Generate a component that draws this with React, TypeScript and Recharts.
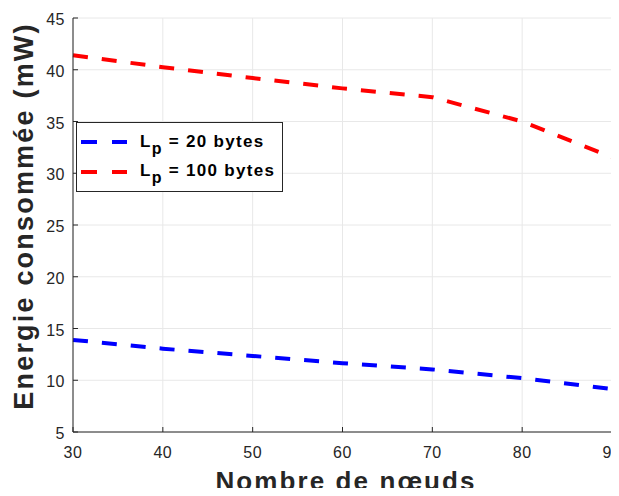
import { LineChart, Line, XAxis, YAxis, CartesianGrid } from "recharts"

const nodes = [30, 40, 50, 60, 70, 80, 90]
const lp20 = [13.9, 13.05, 12.35, 11.65, 11.05, 10.2, 9.15]
const lp100 = [41.4, 40.25, 39.2, 38.2, 37.35, 35.0, 31.55]
const xTicks = [30, 40, 50, 60, 70, 80, 90]
const yTicks = [5, 10, 15, 20, 25, 30, 35, 40, 45]

const data = nodes.map((n, i) => ({ n, lp20: lp20[i], lp100: lp100[i] }))

const FONT = "'Liberation Sans', Arial, sans-serif"
const AX = "#262626"

const series = [
  { key: "lp20", color: "#0000ff", value: "20" },
  { key: "lp100", color: "#ff0000", value: "100" },
]

function BottomTick(props: any) {
  const { x, y, payload } = props
  return (
    <g>
      <line x1={x} y1={y} x2={x} y2={y - 5} stroke={AX} strokeWidth={1} />
      <text x={x} y={y + 26} textAnchor="middle" fontSize={16} fill={AX} fontFamily={FONT} letterSpacing={0.5}>
        {payload.value}
      </text>
    </g>
  )
}

function LeftTick(props: any) {
  const { x, y, payload } = props
  return (
    <g>
      <line x1={x} y1={y} x2={x + 5} y2={y} stroke={AX} strokeWidth={1} />
      <text x={x - 8} y={y + 7} textAnchor="end" fontSize={16} fill={AX} fontFamily={FONT} letterSpacing={0.5}>
        {payload.value}
      </text>
    </g>
  )
}

function TopTick(props: any) {
  const { x, y } = props
  return <line x1={x} y1={y} x2={x} y2={y + 5} stroke={AX} strokeWidth={1} />
}

function RightTick(props: any) {
  const { x, y } = props
  return <line x1={x} y1={y} x2={x - 5} y2={y} stroke={AX} strokeWidth={1} />
}

// legend drawn as a small svg box over the plot (upper left)
function LegendBox() {
  return (
    <svg width={208} height={71} style={{ position: "absolute", left: 76, top: 122 }}>
      <rect x={0.5} y={0.5} width={206} height={69} fill="#fff" stroke={AX} strokeWidth={1} />
      {series.map((s, i) => (
        <g key={s.key}>
          <line
            x1={5}
            y1={20 + i * 30}
            x2={51}
            y2={20 + i * 30}
            stroke={s.color}
            strokeWidth={4}
            strokeDasharray="16 15"
          />
          <text
            x={64}
            y={25 + i * 29}
            fontFamily={FONT}
            fontWeight="bold"
            fontSize={17}
            letterSpacing={1.3}
            fill="#000"
          >
            L
            <tspan dy={7} fontSize={16}>
              p
            </tspan>
            <tspan dy={-7}> = {s.value} bytes</tspan>
          </text>
        </g>
      ))}
    </svg>
  )
}

export default function App() {
  return (
    <div style={{ position: "relative", width: 619, height: 496, margin: -8, background: "#fff", overflow: "hidden" }}>
      <LineChart
        width={619}
        height={496}
        data={data}
        margin={{ top: 18, right: 7, bottom: 34, left: 13 }}
        style={{ background: "#fff", overflow: "visible" }}
      >
        <CartesianGrid stroke="#e8e8e8" strokeWidth={1} />
        <XAxis
          dataKey="n"
          type="number"
          domain={[30, 90]}
          ticks={xTicks}
          height={30}
          tickSize={0}
          tickMargin={0}
          tickLine={false}
          axisLine={{ stroke: AX }}
          tick={<BottomTick />}
          interval={0}
        />
        <XAxis
          xAxisId="top"
          dataKey="n"
          type="number"
          orientation="top"
          domain={[30, 90]}
          ticks={xTicks}
          height={0}
          tickSize={0}
          tickMargin={0}
          tickLine={false}
          axisLine={{ stroke: AX }}
          tick={<TopTick />}
          interval={0}
        />
        <YAxis
          type="number"
          domain={[5, 45]}
          ticks={yTicks}
          width={60}
          tickSize={0}
          tickMargin={0}
          tickLine={false}
          axisLine={{ stroke: AX }}
          tick={<LeftTick />}
          interval={0}
        />
        <YAxis
          yAxisId="right"
          orientation="right"
          type="number"
          domain={[5, 45]}
          ticks={yTicks}
          width={0}
          tickSize={0}
          tickMargin={0}
          tickLine={false}
          axisLine={{ stroke: AX }}
          tick={<RightTick />}
          interval={0}
        />
        {series.map((s) => (
          <Line
            key={s.key}
            dataKey={s.key}
            type="linear"
            stroke={s.color}
            strokeWidth={4}
            strokeDasharray="15 14"
            dot={false}
            activeDot={false}
            isAnimationActive={false}
          />
        ))}
      </LineChart>
      <LegendBox />
      <div style={{ position: "absolute", left: 24, top: 216, width: 0, height: 0 }}>
        <div
          style={{
            position: "absolute",
            transform: "translate(-50%, -50%) rotate(-90deg)",
            whiteSpace: "nowrap",
            fontFamily: FONT,
            fontWeight: "bold",
            fontSize: 27,
            letterSpacing: 2.2,
            lineHeight: 1,
            color: AX,
          }}
        >
          Energie consommée (mW)
        </div>
      </div>
      <div
        style={{
          position: "absolute",
          left: 0,
          width: 692,
          top: 468,
          textAlign: "center",
          fontFamily: FONT,
          fontWeight: "bold",
          fontSize: 26,
          letterSpacing: 2.1,
          lineHeight: 1,
          color: AX,
        }}
      >
        Nombre de nœuds
      </div>
    </div>
  )
}
